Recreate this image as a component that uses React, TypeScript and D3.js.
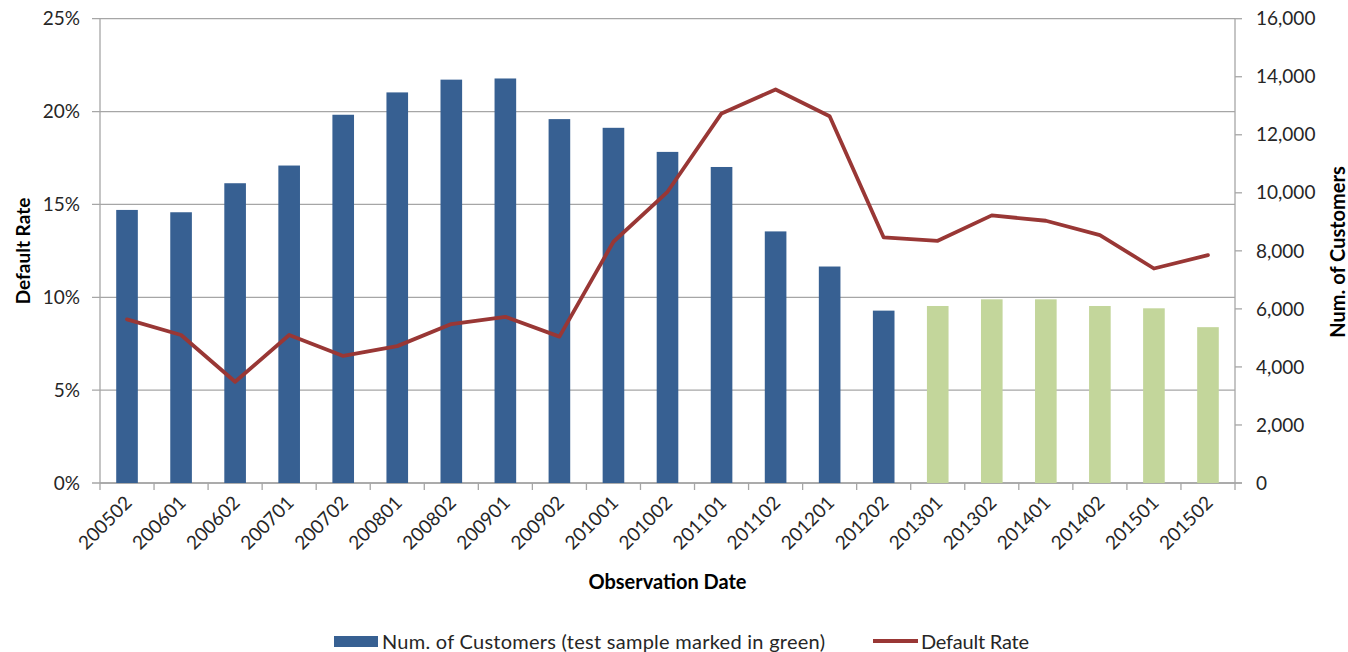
import React from "react";
import * as d3 from "d3";

const categories = [
  "200502", "200601", "200602", "200701", "200702", "200801", "200802",
  "200901", "200902", "201001", "201002", "201101", "201102", "201201",
  "201202", "201301", "201302", "201401", "201402", "201501", "201502",
];

const customers = [
  9410, 9330, 10330, 10940, 12690, 13460, 13900, 13940, 12540, 12240, 11410,
  10890, 8670, 7460, 5940, 6100, 6330, 6330, 6100, 6020, 5370,
];

const defaultRate = [
  8.81, 7.97, 5.45, 7.97, 6.84, 7.37, 8.56, 8.95, 7.88, 12.99, 15.68, 19.9,
  21.19, 19.75, 13.22, 13.04, 14.41, 14.12, 13.35, 11.55, 12.27,
];

const testSample = [
  false, false, false, false, false, false, false, false, false, false, false,
  false, false, false, false, true, true, true, true, true, true,
];

const leftTicks = [0, 5, 10, 15, 20, 25];
const rightTicks = [0, 2000, 4000, 6000, 8000, 10000, 12000, 14000, 16000];

const W = 1348;
const H = 652;
const PL = 100;
const PR = 1235;
const PT = 18.7;
const PB = 483;

const BLUE = "#376092";
const GREEN = "#C3D69B";
const RED = "#993735";
const GRID = "#A6A6A6";
const TXT = "#262626";
const FONT = "Lato, 'Open Sans', sans-serif";

export default function App() {
  const x = d3.scaleBand<string>().domain(categories).range([PL, PR]).padding(0);
  const yL = d3.scaleLinear().domain([0, 25]).range([PB, PT]);
  const yR = d3.scaleLinear().domain([0, 16000]).range([PB, PT]);
  const bw = x.bandwidth() * 0.4;
  const cx = (c: string) => (x(c) as number) + x.bandwidth() / 2;
  const fmtR = d3.format(",");

  const line = d3
    .line<number>()
    .x((_, i) => cx(categories[i]))
    .y((d) => yL(d))
    .curve(d3.curveLinear);

  const bounds = categories.map((c) => x(c) as number).concat([PR]);

  return (
    <svg
      width={W}
      height={H}
      style={{ position: "absolute", left: 0, top: 0, background: "#fff" }}
      fontFamily={FONT}
    >
      {/* gridlines */}
      {leftTicks.map((t) => (
        <line key={"g" + t} x1={PL - 8} x2={PR} y1={yL(t)} y2={yL(t)} stroke={GRID} strokeWidth={1.3} />
      ))}
      {/* left axis */}
      <line x1={PL} x2={PL} y1={PT} y2={PB} stroke={GRID} strokeWidth={1.3} />
      {/* right axis */}
      <line x1={PR} x2={PR} y1={PT} y2={PB} stroke={GRID} strokeWidth={1.3} />
      {rightTicks.map((t) => (
        <line key={"rt" + t} x1={PR} x2={PR + 7} y1={yR(t)} y2={yR(t)} stroke={GRID} strokeWidth={1.3} />
      ))}
      {/* bottom axis ticks */}
      <line x1={PL} x2={PR + 7} y1={PB} y2={PB} stroke={GRID} strokeWidth={1.3} />
      {bounds.map((b, i) => (
        <line key={"bt" + i} x1={b} x2={b} y1={PB} y2={PB + 7} stroke={GRID} strokeWidth={1.3} />
      ))}

      {/* bars */}
      {categories.map((c, i) => (
        <rect
          key={"b" + c}
          x={cx(c) - bw / 2}
          width={bw}
          y={yR(customers[i])}
          height={PB - yR(customers[i])}
          fill={testSample[i] ? GREEN : BLUE}
        />
      ))}

      {/* line */}
      <path d={line(defaultRate) || ""} fill="none" stroke={RED} strokeWidth={3.8} strokeLinejoin="round" strokeLinecap="round" />

      {/* left tick labels */}
      {leftTicks.map((t) => (
        <text key={"lt" + t} x={80} y={yL(t)} dy="0.35em" textAnchor="end" fontSize={19} fill={TXT}>
          {t + "%"}
        </text>
      ))}
      {/* right tick labels */}
      {rightTicks.map((t) => (
        <text key={"rl" + t} x={1256} y={yR(t)} dy="0.35em" textAnchor="start" fontSize={19} fill={TXT}>
          {fmtR(t)}
        </text>
      ))}
      {/* category labels */}
      {categories.map((c) => (
        <text
          key={"cl" + c}
          transform={`translate(${cx(c) + 6},${504}) rotate(-45)`}
          textAnchor="end"
          fontSize={19}
          fill={TXT}
        >
          {c}
        </text>
      ))}

      {/* axis titles */}
      <text transform={`translate(30,251) rotate(-90)`} textAnchor="middle" fontSize={19} fontWeight="bold" fill="#000">
        Default Rate
      </text>
      <text transform={`translate(1345,252) rotate(-90)`} textAnchor="middle" fontSize={20} fontWeight="bold" fill="#000">
        Num. of Customers
      </text>
      <text x={(PL + PR) / 2} y={589} textAnchor="middle" fontSize={20} fontWeight="bold" fill="#000">
        Observation Date
      </text>

      {/* legend */}
      <rect x={334} y={636} width={44} height={11} fill={BLUE} />
      <text x={382} y={649} fontSize={20} fill={TXT} textLength={443} lengthAdjust="spacing">
        Num. of Customers (test sample marked in green)
      </text>
      <line x1={873} x2={918} y1={641} y2={641} stroke={RED} strokeWidth={4} />
      <text x={921} y={649} fontSize={20} fill={TXT} textLength={108} lengthAdjust="spacing">
        Default Rate
      </text>
    </svg>
  );
}
